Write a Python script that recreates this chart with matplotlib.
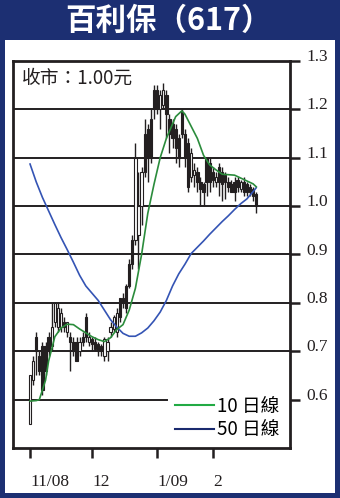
import matplotlib
matplotlib.use('Agg')
import matplotlib.pyplot as plt
from matplotlib.patches import Rectangle
from matplotlib.lines import Line2D
import numpy as np

# daily candles, trading day index from the first session of Nov 2008
opens = [0.55, 0.64, 0.73, 0.69, 0.71, 0.71, 0.73, 0.71, 0.76, 0.75,
         0.75, 0.76, 0.74, 0.73, 0.72, 0.72, 0.70, 0.73, 0.77, 0.72,
         0.725, 0.72, 0.715, 0.71, 0.69, 0.70, 0.74, 0.745, 0.74, 0.81,
         0.81, 0.835, 0.88, 0.93, 0.93, 0.94, 1.00, 1.15, 1.16, 1.18,
         1.24, 1.24, 1.20, 1.21, 1.23, 1.18, 1.17, 1.16, 1.14, 1.195,
         1.15, 1.13, 1.06, 1.065, 1.07, 1.05, 1.045, 1.10, 1.09, 1.07,
         1.05, 1.08, 1.07, 1.065, 1.05, 1.045, 1.05, 1.055, 1.035, 1.05,
         1.045, 1.04, 1.035, 1.025]
highs = [0.65, 0.69, 0.74, 0.70, 0.72, 0.72, 0.74, 0.80, 0.80, 0.80,
         0.79, 0.77, 0.76, 0.74, 0.73, 0.73, 0.73, 0.74, 0.78, 0.74,
         0.73, 0.73, 0.72, 0.715, 0.73, 0.73, 0.76, 0.775, 0.79, 0.81,
         0.82, 0.84, 0.89, 0.94, 1.13, 1.07, 1.08, 1.18, 1.17, 1.20,
         1.25, 1.25, 1.24, 1.255, 1.24, 1.19, 1.18, 1.17, 1.15, 1.20,
         1.16, 1.14, 1.12, 1.09, 1.08, 1.06, 1.05, 1.10, 1.10, 1.08,
         1.07, 1.09, 1.08, 1.07, 1.06, 1.055, 1.06, 1.06, 1.055, 1.06,
         1.05, 1.045, 1.04, 1.03]
lows = [0.55, 0.63, 0.65, 0.65, 0.61, 0.65, 0.69, 0.70, 0.75, 0.74,
        0.74, 0.74, 0.73, 0.66, 0.69, 0.68, 0.69, 0.71, 0.72, 0.71,
        0.70, 0.70, 0.69, 0.69, 0.68, 0.68, 0.73, 0.74, 0.73, 0.76,
        0.79, 0.78, 0.83, 0.87, 0.92, 0.87, 0.96, 1.06, 1.05, 1.09,
        1.18, 1.19, 1.16, 1.20, 1.14, 1.11, 1.12, 1.09, 1.08, 1.14,
        1.08, 1.03, 1.05, 1.04, 1.03, 1.00, 1.00, 1.02, 1.03, 1.04,
        1.04, 1.02, 1.01, 1.015, 1.03, 1.03, 1.01, 1.03, 1.03, 1.02,
        1.02, 1.02, 1.01, 0.985]
closes = [0.65, 0.68, 0.70, 0.66, 0.62, 0.66, 0.70, 0.75, 0.80, 0.79,
          0.78, 0.75, 0.76, 0.72, 0.70, 0.68, 0.72, 0.72, 0.73, 0.73,
          0.715, 0.705, 0.70, 0.70, 0.725, 0.72, 0.75, 0.77, 0.78, 0.77,
          0.80, 0.79, 0.835, 0.88, 1.10, 1.00, 1.07, 1.07, 1.10, 1.10,
          1.20, 1.20, 1.23, 1.24, 1.19, 1.15, 1.14, 1.12, 1.10, 1.15,
          1.10, 1.04, 1.11, 1.075, 1.05, 1.035, 1.03, 1.05, 1.05, 1.055,
          1.06, 1.05, 1.045, 1.05, 1.04, 1.03, 1.03, 1.04, 1.05, 1.03,
          1.03, 1.03, 1.02, 1.00]

# moving averages
ma10_day = [0, 2, 3, 5, 6, 8, 10, 12, 14, 16, 18, 20, 22, 24, 26, 28, 30, 32, 34, 36,
            38, 40, 42, 44, 46, 47, 49, 50, 52, 54, 56, 58, 60, 62, 64, 66, 68, 70, 72, 73]
ma10 = [0.597, 0.598, 0.60, 0.64, 0.68, 0.73, 0.748, 0.756, 0.755, 0.746,
        0.738, 0.73, 0.724, 0.72, 0.728, 0.745, 0.755, 0.785, 0.83, 0.90,
        0.985, 1.045, 1.10, 1.14, 1.17, 1.185, 1.197, 1.19, 1.165, 1.14,
        1.105, 1.085, 1.075, 1.066, 1.065, 1.064, 1.058, 1.052, 1.046, 1.04]
ma50_day = list(range(0, 73, 2)) + [73]
ma50 = [1.087, 1.05, 1.018, 0.99, 0.962, 0.935, 0.91, 0.884, 0.857, 0.835,
        0.82, 0.805, 0.785, 0.765, 0.75, 0.737, 0.731, 0.731, 0.738, 0.748,
        0.763, 0.781, 0.805, 0.835, 0.86, 0.88, 0.902, 0.915, 0.928, 0.942,
        0.955, 0.968, 0.98, 0.993, 1.005, 1.015, 1.03, 1.038]

month_pos = [0, 20, 41, 59]
month_labels = ['11/08', '12', '1/09', '2']
price_ticks = [0.6, 0.7, 0.8, 0.9, 1.0, 1.1, 1.2, 1.3]

navy = '#1c2f72'
ink = '#231f20'
cjk = ['Noto Sans CJK TC', 'DejaVu Sans']

fig = plt.figure(figsize=(3.4, 4.98), dpi=100, facecolor=navy)
fig.patches.append(Rectangle((5/340, 5/498), 330/340, 453/498,
                             transform=fig.transFigure, facecolor='white',
                             edgecolor='none', zorder=-1))
fig.text(168/340, 1 - 21/498, '百利保（617）', color='white', fontsize=22,
         fontweight='heavy', family=cjk, ha='center', va='center')

ax = fig.add_axes([13/340, 50/498, 277/340, 387/498])
ax.set_zorder(1)
ax.set_xlim(-5.5, 83.9)
ax.set_ylim(0.5, 1.3)

# horizontal rules, the 0.6 one stops short of the legend
for lv in price_ticks[1:-1]:
    ax.axhline(lv, color=ink, lw=1.4, zorder=1)
ax.axhline(0.6, xmax=0.556, color=ink, lw=1.4, zorder=1)

o = np.array(opens)
h = np.array(highs)
l = np.array(lows)
c = np.array(closes)
days = np.arange(len(o))
up = c >= o
ax.vlines(days, l, h, color=ink, lw=1.0, zorder=2)
ax.bar(days[up], (c - o)[up], bottom=o[up], width=0.75, color='white',
       edgecolor=ink, linewidth=0.8, zorder=3)
ax.bar(days[~up], (o - c)[~up], bottom=c[~up], width=0.75, color=ink,
       edgecolor=ink, linewidth=0.8, zorder=3)

ax.plot(ma50_day, ma50, color='#3454b4', lw=1.2, zorder=4)
ax.plot(ma10_day, ma10, color='#2b8c3c', lw=1.2, zorder=5)

for s in ax.spines.values():
    s.set_linewidth(2)
    s.set_color(ink)

ax.set_yticks(price_ticks)
ax.set_yticklabels(['%.1f' % v for v in price_ticks])
ax.tick_params(axis='y', left=False, right=True, labelleft=False, labelright=True,
               direction='out', length=7, width=1.8, pad=5, colors=ink)
for t in ax.get_yticklabels():
    t.set_family('Liberation Serif')
    t.set_fontsize(12.5)
    t.set_va('baseline')

ax.set_xticks(month_pos)
ax.set_xticklabels(month_labels)
ax.tick_params(axis='x', direction='out', length=7, width=1.8, pad=12, colors=ink)
for t in ax.get_xticklabels():
    t.set_family('Liberation Serif')
    t.set_fontsize(12.5)
    t.set_ha('left')

ax.text(0.032, 0.956, '收市：1.00元', transform=ax.transAxes, fontsize=13.5,
        family=cjk, color=ink, va='center', ha='left')

handles = [Line2D([], [], color='#22aa44', lw=1.5),
           Line2D([], [], color='#1a2a6e', lw=1.5)]
ax.legend(handles, ['10 日線', '50 日線'], loc='lower left',
          bbox_to_anchor=(0.585, 0.02), frameon=False, borderpad=0,
          borderaxespad=0, handlelength=2.1, handletextpad=0.15,
          labelspacing=0.12, prop={'family': cjk, 'size': 13.5})

fig.savefig('out.png', dpi=100, facecolor=fig.get_facecolor())
plt.close(fig)
